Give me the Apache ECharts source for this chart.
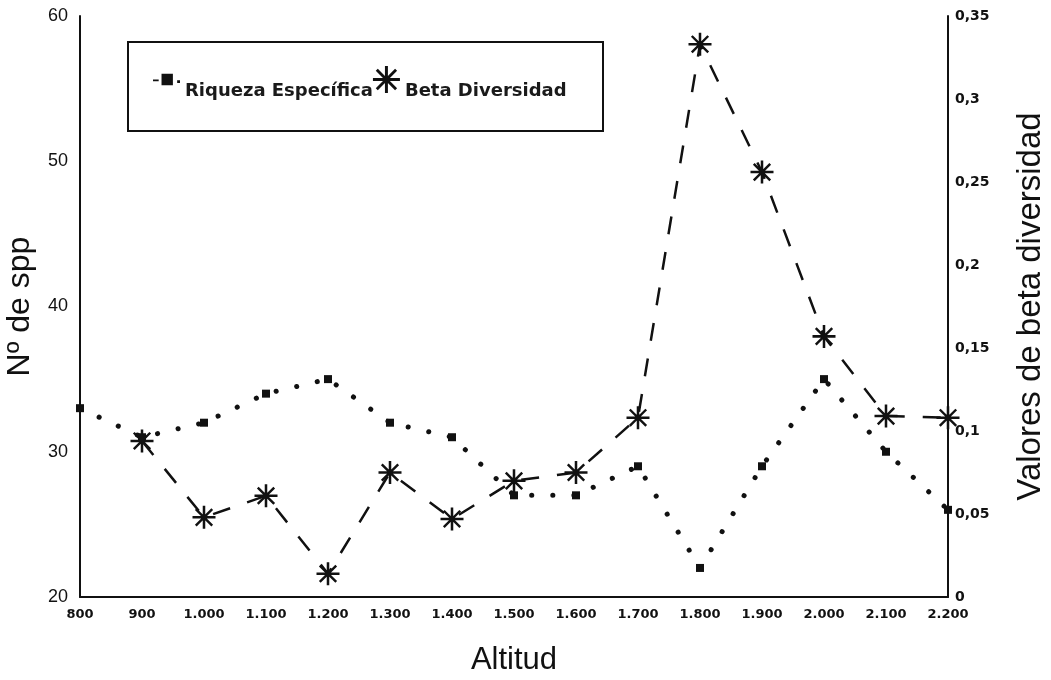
<!DOCTYPE html>
<html>
<head>
<meta charset="utf-8">
<script src="https://cdn.jsdelivr.net/npm/echarts@6/dist/echarts.min.js"></script>
<style>
  html, body { margin: 0; padding: 0; background: #fff; }
  #chart { width: 1051px; height: 680px; }
</style>
</head>
<body>
<div id="chart"></div>
<script>
// Altitude steps (m)
const altitudes = [800, 900, 1000, 1100, 1200, 1300, 1400, 1500, 1600, 1700, 1800, 1900, 2000, 2100, 2200];
// Species richness (number of species) per altitude
const riqueza = [33, 31, 32, 34, 35, 32, 31, 27, 27, 29, 22, 29, 35, 30, 26];
// Beta diversity between consecutive altitudes (none at 800)
const betaAltitudes = [900, 1000, 1100, 1200, 1300, 1400, 1500, 1600, 1700, 1800, 1900, 2000, 2100, 2200];
const beta = [0.094, 0.048, 0.061, 0.014, 0.075, 0.047, 0.070, 0.075, 0.108, 0.333, 0.256, 0.157, 0.109, 0.108];

const seriesNames = ['Riqueza Específica', 'Beta Diversidad'];

// eight-armed asterisk marker
const asterisk = 'path://M-10,-1.1L10,-1.1L10,1.1L-10,1.1Z' +
  'M-1.1,-10L1.1,-10L1.1,10L-1.1,10Z' +
  'M-6.4,-7.9L7.9,6.4L6.4,7.9L-7.9,-6.4Z' +
  'M-7.9,6.4L6.4,-7.9L7.9,-6.4L-6.4,7.9Z';
// dash + square + dot legend icon
const dotSquare = 'path://M0,4.5L4,4.5L4,5.8L0,5.8Z M6,0.5L14,0.5L14,8.5L6,8.5Z M17,5L19,5L19,7L17,7Z';

const fmtThousands = v => {
  const s = String(Math.round(v));
  return s.length > 3 ? s.slice(0, s.length - 3) + '.' + s.slice(-3) : s;
};

const SANS = 'Liberation Sans, Arial, sans-serif';
const WIDE = 'DejaVu Sans, sans-serif';

const chart = echarts.init(document.getElementById('chart'));
chart.setOption({
  backgroundColor: '#fff',
  animation: false,
  grid: { left: 80, right: 103, top: 16, bottom: 83, outerBoundsMode: 'none', containLabel: false },
  graphic: [{
    type: 'rect',
    shape: { x: 128, y: 42, width: 475, height: 89 },
    style: { fill: 'none', stroke: '#111', lineWidth: 2 }
  }],
  legend: {
    left: 153,
    top: 66,
    padding: 0,
    itemGap: 0,
    itemWidth: 27,
    itemHeight: 27,
    data: [
      { name: seriesNames[0], icon: dotSquare },
      { name: seriesNames[1], icon: asterisk }
    ],
    formatter: '{t|{name}}',
    textStyle: {
      fontFamily: WIDE,
      fontWeight: 'bold',
      fontSize: 18,
      color: '#1a1a1a',
      rich: {
        t: {
          fontFamily: WIDE,
          fontWeight: 'bold',
          fontSize: 18,
          color: '#1a1a1a',
          padding: [24, 0, 0, 0]
        }
      }
    }
  },
  xAxis: {
    type: 'value',
    min: 800,
    max: 2200,
    interval: 100,
    name: 'Altitud',
    nameLocation: 'middle',
    nameGap: 48,
    nameTextStyle: { fontFamily: SANS, fontSize: 31, color: '#111' },
    axisLine: { lineStyle: { color: '#111', width: 2 } },
    axisTick: { show: false },
    splitLine: { show: false },
    axisLabel: {
      margin: 11,
      fontFamily: WIDE,
      fontWeight: 'bold',
      fontSize: 13,
      color: '#111',
      formatter: fmtThousands
    }
  },
  yAxis: [{
    type: 'value',
    min: 20,
    max: 60,
    interval: 10,
    name: 'Nº de spp',
    nameLocation: 'middle',
    nameGap: 44,
    nameTextStyle: { fontFamily: SANS, fontSize: 32, color: '#111' },
    axisLine: { show: true, lineStyle: { color: '#111', width: 2 } },
    axisTick: { show: false },
    splitLine: { show: false },
    axisLabel: { margin: 12, fontFamily: SANS, fontSize: 18, color: '#111' }
  }, {
    type: 'value',
    min: 0,
    max: 0.35,
    interval: 0.05,
    position: 'right',
    name: 'Valores de beta diversidad',
    nameLocation: 'middle',
    nameGap: 66,
    nameTextStyle: { fontFamily: SANS, fontSize: 33, color: '#111' },
    axisLine: { show: true, lineStyle: { color: '#111', width: 2 } },
    axisTick: { show: false },
    splitLine: { show: false },
    axisLabel: {
      margin: 7,
      fontFamily: WIDE,
      fontWeight: 'bold',
      fontSize: 14,
      color: '#111',
      formatter: v => String(Math.round(v * 100) / 100).replace('.', ',')
    }
  }],
  series: [{
    name: seriesNames[0],
    type: 'line',
    yAxisIndex: 0,
    data: altitudes.map((a, i) => [a, riqueza[i]]),
    symbol: 'rect',
    symbolSize: 8,
    itemStyle: { color: '#111' },
    lineStyle: { color: '#111', width: 5, type: [0.1, 21], cap: 'round' },
    z: 2
  }, {
    name: seriesNames[1],
    type: 'line',
    yAxisIndex: 1,
    data: betaAltitudes.map((a, i) => [a, beta[i]]),
    symbol: asterisk,
    symbolSize: 23,
    itemStyle: { color: '#111' },
    lineStyle: { color: '#111', width: 2.5, type: [18, 18] },
    z: 3
  }]
});
</script>
</body>
</html>
